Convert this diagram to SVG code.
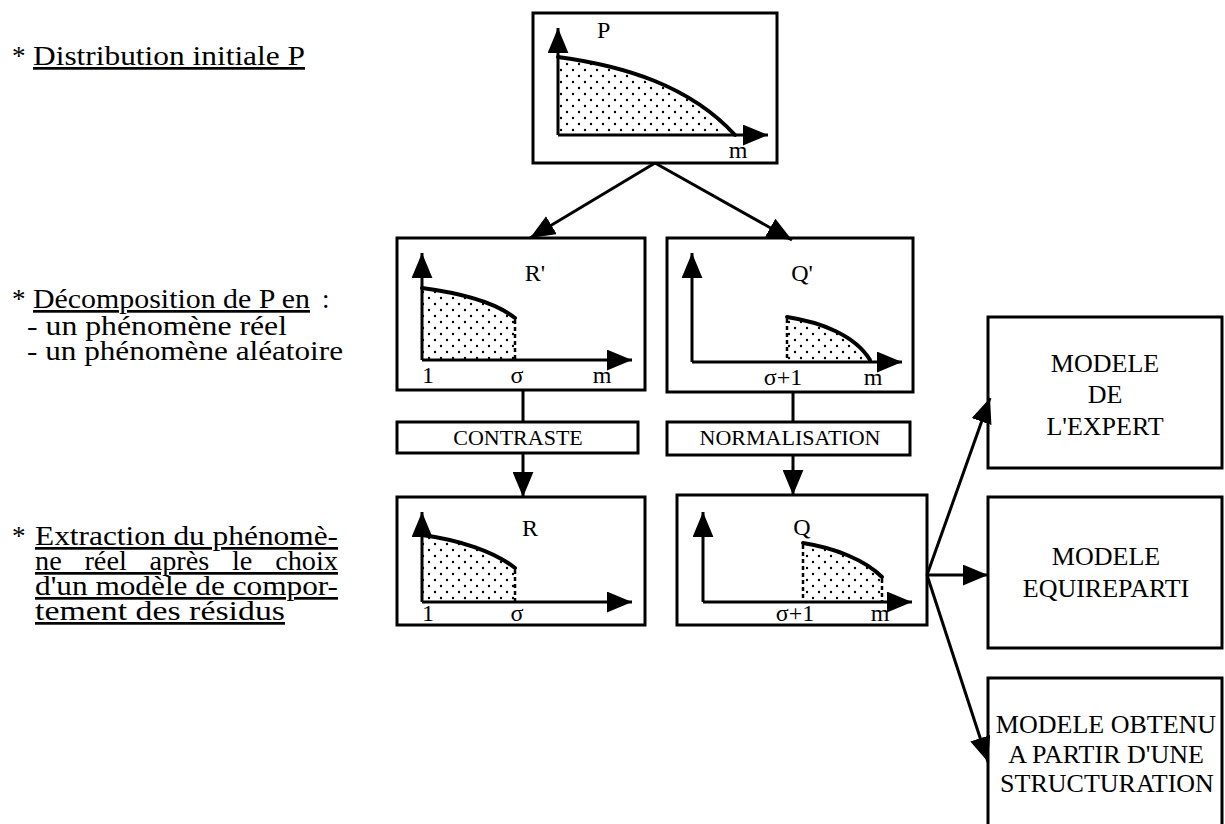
<svg xmlns="http://www.w3.org/2000/svg" width="1225" height="824" viewBox="0 0 1225 824">
<style>
.box{fill:#fff;stroke:#000;stroke-width:3}
.ax{fill:none;stroke:#000;stroke-width:3}
.crv{fill:none;stroke:#000;stroke-width:4;stroke-linecap:round}
.dash{fill:none;stroke:#000;stroke-width:2.5;stroke-dasharray:4 3}
.fillp{fill:url(#dots);stroke:none}
.con{fill:none;stroke:#000;stroke-width:3}
.t{font-family:"Liberation Serif","Times New Roman",serif;fill:#000}
.lab{font-size:24px}
.op{font-size:22px}
.big{font-size:26px;text-anchor:middle}
.side{font-size:27px}
</style>
<defs>
<pattern id="dots" width="12" height="12" patternUnits="userSpaceOnUse">
<circle cx="3" cy="4" r="1.2" fill="#000"/>
<circle cx="9" cy="10" r="1.2" fill="#000"/>
</pattern>
<marker id="ah" viewBox="0 0 24 20" refX="24" refY="10" markerWidth="25" markerHeight="21" orient="auto" markerUnits="userSpaceOnUse">
<path d="M0,0 L24,10 L0,20 Z" fill="#000"/>
</marker>
</defs>

<g id="side-text" class="t side">
<text x="12" y="65">*</text>
<text x="33" y="65" textLength="272" lengthAdjust="spacingAndGlyphs" text-decoration="underline">Distribution initiale P</text>
<text x="12" y="308">*</text>
<text x="33" y="308" textLength="277" lengthAdjust="spacingAndGlyphs" text-decoration="underline">Décomposition de P en</text>
<text x="322" y="308">:</text>
<text x="27" y="335" textLength="260" lengthAdjust="spacingAndGlyphs">- un phénomène réel</text>
<text x="27" y="360" textLength="316" lengthAdjust="spacingAndGlyphs">- un phénomène aléatoire</text>
<text x="12" y="545">*</text>
<text x="35" y="545" textLength="303" lengthAdjust="spacingAndGlyphs" text-decoration="underline">Extraction du phénomè-</text>
<text x="35" y="570" textLength="303" lengthAdjust="spacingAndGlyphs" word-spacing="15" text-decoration="underline">ne réel après le choix</text>
<text x="35" y="595" textLength="303" lengthAdjust="spacingAndGlyphs" text-decoration="underline">d'un modèle de compor-</text>
<text x="35" y="620" textLength="250" lengthAdjust="spacingAndGlyphs" text-decoration="underline">tement des résidus</text>
</g>

<g id="node-P">
<rect class="box" x="533" y="13" width="244" height="150"/>
<path class="fillp" d="M558,57 C625,66 690,86 735,135 L558,135 Z"/>
<path class="crv" d="M558,57 C625,66 690,86 735,135"/>
<path class="ax" d="M558,135 L558,28" marker-end="url(#ah)"/>
<path class="ax" d="M558,135 L768,135" marker-end="url(#ah)"/>
<text class="t lab" x="597" y="38">P</text>
<text class="t lab" x="738" y="158" text-anchor="middle">m</text>
</g>

<g id="node-Rp">
<rect class="box" x="397" y="238" width="248" height="152"/>
<path class="fillp" d="M422,288 C460,293 495,302 515,318 L515,360 L422,360 Z"/>
<path class="crv" d="M422,288 C460,293 495,302 515,318"/>
<path class="dash" d="M515,320 L515,360"/>
<path class="ax" d="M422,360 L422,253" marker-end="url(#ah)"/>
<path class="ax" d="M422,360 L632,360" marker-end="url(#ah)"/>
<text class="t lab" x="535" y="281" text-anchor="middle">R'</text>
<text class="t lab" x="428" y="383" text-anchor="middle">1</text>
<text class="t lab" x="517" y="383" text-anchor="middle">σ</text>
<text class="t lab" x="602" y="383" text-anchor="middle">m</text>
</g>

<g id="node-Qp">
<rect class="box" x="667" y="238" width="246" height="154"/>
<path class="fillp" d="M787,317 C820,322 855,335 870,362 L787,362 Z"/>
<path class="crv" d="M787,317 C820,322 855,335 870,360"/>
<path class="dash" d="M787,319 L787,362"/>
<path class="ax" d="M692,362 L692,253" marker-end="url(#ah)"/>
<path class="ax" d="M692,362 L902,362" marker-end="url(#ah)"/>
<text class="t lab" x="802" y="281" text-anchor="middle">Q'</text>
<text class="t lab" x="783" y="385" text-anchor="middle">σ+1</text>
<text class="t lab" x="873" y="385" text-anchor="middle">m</text>
</g>

<g id="node-contraste">
<rect class="box" x="397" y="422" width="241" height="31"/>
<text class="t op" x="518" y="445" text-anchor="middle">CONTRASTE</text>
</g>

<g id="node-normalisation">
<rect class="box" x="667" y="422" width="243" height="33"/>
<text class="t op" x="790" y="445" text-anchor="middle">NORMALISATION</text>
</g>

<g id="node-R">
<rect class="box" x="397" y="497" width="248" height="128"/>
<path class="fillp" d="M422,535 C460,540 495,552 515,568 L515,602 L422,602 Z"/>
<path class="crv" d="M422,535 C460,540 495,552 515,568"/>
<path class="dash" d="M515,570 L515,602"/>
<path class="ax" d="M422,602 L422,512" marker-end="url(#ah)"/>
<path class="ax" d="M422,602 L632,602" marker-end="url(#ah)"/>
<text class="t lab" x="530" y="536" text-anchor="middle">R</text>
<text class="t lab" x="428" y="621" text-anchor="middle">1</text>
<text class="t lab" x="517" y="621" text-anchor="middle">σ</text>
</g>

<g id="node-Q">
<rect class="box" x="677" y="495" width="250" height="130"/>
<path class="fillp" d="M803,543 C835,548 865,560 882,577 L882,602 L803,602 Z"/>
<path class="crv" d="M803,543 C835,548 865,560 882,577"/>
<path class="dash" d="M803,545 L803,602"/>
<path class="dash" d="M882,579 L882,602"/>
<path class="ax" d="M703,602 L703,512" marker-end="url(#ah)"/>
<path class="ax" d="M703,602 L912,602" marker-end="url(#ah)"/>
<text class="t lab" x="802" y="535" text-anchor="middle">Q</text>
<text class="t lab" x="795" y="621" text-anchor="middle">σ+1</text>
<text class="t lab" x="880" y="621" text-anchor="middle">m</text>
</g>

<g id="node-expert">
<rect class="box" x="988" y="317" width="234" height="151"/>
<text class="t big" x="1105" y="372">MODELE</text>
<text class="t big" x="1105" y="403">DE</text>
<text class="t big" x="1105" y="435">L'EXPERT</text>
</g>

<g id="node-equireparti">
<rect class="box" x="988" y="497" width="234" height="151"/>
<text class="t big" x="1106" y="565">MODELE</text>
<text class="t big" x="1106" y="597">EQUIREPARTI</text>
</g>

<g id="node-structuration">
<rect class="box" x="988" y="678" width="234" height="160"/>
<text class="t big" x="1106" y="733">MODELE OBTENU</text>
<text class="t big" x="1106" y="763">A PARTIR D'UNE</text>
<text class="t big" x="1107" y="792">STRUCTURATION</text>
</g>

<g id="connectors">
<path class="con" d="M655,163 L530,238" marker-end="url(#ah)"/>
<path class="con" d="M655,163 L792,240" marker-end="url(#ah)"/>
<path class="con" d="M523,390 L523,422"/>
<path class="con" d="M523,453 L523,497" marker-end="url(#ah)"/>
<path class="con" d="M793,392 L793,422"/>
<path class="con" d="M793,455 L793,495" marker-end="url(#ah)"/>
<path class="con" d="M927,575 L990,398" marker-end="url(#ah)"/>
<path class="con" d="M927,575 L988,575" marker-end="url(#ah)"/>
<path class="con" d="M927,575 L988,762" marker-end="url(#ah)"/>
</g>
</svg>
